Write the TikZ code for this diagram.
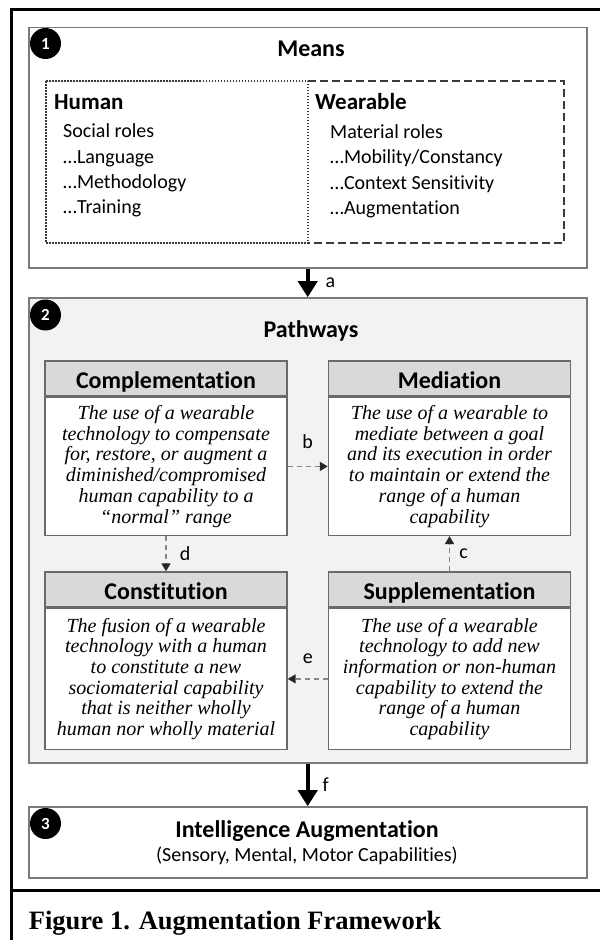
\documentclass[tikz,border=0pt]{standalone}
\usepackage{fontspec}
\setmainfont{Carlito}[Ligatures={TeX,NoCommon}]
\newfontfamily\timesfont{Liberation Serif}
\usepackage{tikz}
\usetikzlibrary{calc,positioning,arrows.meta}

\definecolor{boxline}{HTML}{7A7A7A}
\definecolor{headline}{HTML}{6A6A6A}
\definecolor{headfill}{HTML}{D9D9D9}
\definecolor{pathfill}{HTML}{F2F2F2}
\definecolor{dashline}{HTML}{858585}
\definecolor{roleline}{HTML}{3A3A3A}

\begin{document}
\begin{tikzpicture}
% styles, 1pt = 1px of the figure, y runs downwards
[
    x=1pt, y=-1pt,
    outer/.style={draw=boxline, line width=1.6pt, minimum width=558pt, inner sep=0pt},
    bignum/.style={circle, fill=black, text=white, inner sep=0pt, minimum size=31pt,
      font=\fontsize{17}{17}\selectfont\bfseries},
    pathhead/.style={draw=headline, line width=1.4pt, fill=headfill, minimum width=242pt,
      minimum height=35pt, inner sep=0pt, text height=20pt, text depth=0pt,
      font=\fontsize{24}{24}\selectfont\bfseries},
    pathbody/.style={draw=headline, line width=1.4pt, fill=white, minimum width=242pt,
      inner sep=0pt, align=center, font=\timesfont\itshape\fontsize{20}{20.7}\selectfont},
    bigarrow/.style={line width=4pt, -{Triangle[width=19pt,length=16pt]}},
    dasharrow/.style={draw=dashline, line width=1.5pt, dash pattern=on 5pt off 4pt,
      -{Triangle[width=9pt,length=8pt,color=black!85]}},
    arrowlabel/.style={inner sep=0pt, font=\fontsize{20}{20}\selectfont},
    rolehead/.style={anchor=base west, inner sep=0pt, font=\fontsize{23}{23}\selectfont\bfseries},
    roleitem/.style={anchor=base west, inner sep=0pt, font=\fontsize{20}{20}\selectfont},
]
\useasboundingbox (0,0) rectangle (600,940);
\pgfmathsetmacro{\lx}{11.5}   % left rule
\pgfmathsetmacro{\cx}{307.7}  % centre of the big boxes

% frame
\draw[line width=2.5pt] (600,9.5) -- (\lx,9.5) -- (\lx,940);
\draw[line width=2.5pt] (\lx,890.5) -- (600,890.5);

% 1 means
\node[outer, minimum height=240.4pt] (means) at (\cx,147.5) {};
\node[bignum] (one) at (45.5,43.5) {1};
\node[anchor=base, inner sep=0pt, font=\fontsize{24}{24}\selectfont\bfseries] (meanstitle) at (311,56.5) {Means};

\draw[roleline, line width=1.5pt, dash pattern=on 8pt off 4pt]
  (308,81) -- (564,81) -- (564,243) -- (308,243);
\draw[roleline, line width=1.5pt, dash pattern=on 1.5pt off 1.5pt] (46,81) rectangle (308,243);

\node[rolehead] (human) at (54,109.5) {Human};
\foreach \t [count=\i] in {Social roles,…Language,…Methodology,…Training}
  \node[roleitem] (hrole\i) at (63,112.5+\i*25.3) {\t};

\node[rolehead] (wearable) at (315,109.5) {Wearable};
\foreach \t [count=\i] in {Material roles,…Mobility/Constancy,…Context Sensitivity,…Augmentation}
  \node[roleitem] (wrole\i) at (330,112.5+\i*25.6) {\t};

% 2 pathways
\node[outer, fill=pathfill, minimum height=465pt] (path) at (\cx,530.5) {};
\node[bignum] (two) at (45.5,315) {2};
\node[anchor=base, inner sep=0pt, font=\fontsize{24}{24}\selectfont\bfseries] (pathtitle) at (311,337) {Pathways};

\node[pathhead] (comphead) at (166,378.5) {Complementation};
\node[pathbody, minimum height=138pt, below=0pt of comphead] (compbody)
  {The use of a wearable\\technology to compensate\\for, restore, or augment a\\diminished/compromised\\human capability to a\\“normal” range};

\node[pathhead] (medhead) at (449.5,378.5) {Mediation};
\node[pathbody, minimum height=138pt, below=0pt of medhead] (medbody)
  {The use of a wearable to\\mediate between a goal\\and its execution in order\\to maintain or extend the\\range of a human\\capability};

\node[pathhead] (consthead) at (166,589.5) {Constitution};
\node[pathbody, minimum height=141pt, below=0pt of consthead] (constbody)
  {The fusion of a wearable\\technology with a human\\to constitute a new\\sociomaterial capability\\that is neither wholly\\human nor wholly material};

\node[pathhead] (supphead) at (449.5,589.5) {Supplementation};
\node[pathbody, minimum height=141pt, below=0pt of supphead] (suppbody)
  {The use of a wearable\\technology to add new\\information or non-human\\capability to extend the\\range of a human\\capability};

% 3 intelligence augmentation
\node[outer, minimum height=71pt] (intel) at (\cx,842.5) {};
\node[bignum] (three) at (45.5,823.5) {3};
\node[anchor=base, inner sep=0pt, font=\fontsize{24}{24}\selectfont\bfseries] (inteltitle) at (307,837) {Intelligence Augmentation};
\node[anchor=base, inner sep=0pt, font=\fontsize{20}{20}\selectfont] (intelsub) at (307,861) {(Sensory, Mental, Motor Capabilities)};

% arrows
\draw[bigarrow] (means.south) -- (path.north) node[arrowlabel, midway, right=16pt] (la) {a};
\draw[bigarrow] (path.south) -- (intel.north) node[arrowlabel, midway, right=13pt] (lf) {f};
\draw[dasharrow] (compbody.east) -- (medbody.west) node[arrowlabel, midway, above=17pt] (lb) {b};
\draw[dasharrow] (supphead.north) -- (medbody.south) node[arrowlabel, midway, right=9pt] (lc) {c};
\draw[dasharrow] (compbody.south) -- (consthead.north) node[arrowlabel, midway, right=13pt] (ld) {d};
\draw[dasharrow] (suppbody.west) -- (constbody.east) node[arrowlabel, midway, above=15pt] (le) {e};

% caption
\node[anchor=base west, inner sep=0pt, font=\timesfont\bfseries\fontsize{26.5}{26.5}\selectfont] (caption) at (28.7,929) {Figure 1. Augmentation Framework};
\end{tikzpicture}
\end{document}
